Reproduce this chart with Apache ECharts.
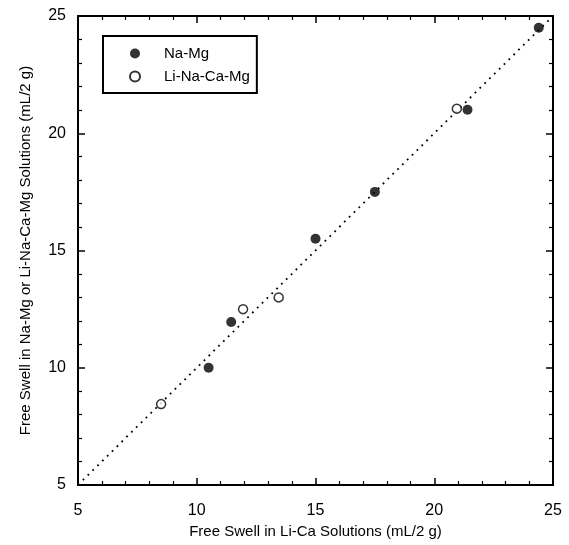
<!DOCTYPE html>
<html><head><meta charset="utf-8">
<script src="https://cdn.jsdelivr.net/npm/echarts@6/dist/echarts.min.js"></script>
<style>html,body{margin:0;padding:0;background:#fff}#c{width:569px;height:545px}</style>
</head><body><div id="c"></div>
<script>
const naMg = [[10.5,10.0],[11.45,11.95],[15.0,15.5],[17.5,17.5],[21.4,21.0],[24.4,24.5]];
const liNaCaMg = [[8.5,8.45],[11.95,12.5],[13.45,13.0],[20.95,21.05]];
const oneToOne = [[5,5],[25,25]];
const xTitle = 'Free Swell in Li-Ca Solutions (mL/2 g)';
const yTitle = 'Free Swell in Na-Mg or Li-Na-Ca-Mg Solutions (mL/2 g)';
const axMin = 5, axMax = 25, axStep = 5;

const font = 'Liberation Sans, Arial, sans-serif';
const chart = echarts.init(document.getElementById('c'));
function ax(pos, show, extra) {
  return Object.assign({
    type: 'value', min: axMin, max: axMax, interval: axStep, position: pos,
    axisLine: {show: true, onZero: false, lineStyle: {color: '#000', width: 2}},
    axisTick: {show: true, inside: true, length: 7, lineStyle: {color: '#000', width: 1.5}},
    minorTick: {show: true, splitNumber: 5, length: 4, lineStyle: {color: '#000', width: 1.2}},
    splitLine: {show: false},
    axisLabel: {show: show, color: '#000', fontSize: 16, fontFamily: font, margin: 12}
  }, extra || {});
}
chart.setOption({
  animation: false,
  grid: {left: 78, top: 16, width: 475, height: 469},
  xAxis: [
    ax('bottom', true, {name: xTitle, nameLocation: 'middle', nameGap: 38,
      axisLabel: {show: true, color: '#000', fontSize: 16, fontFamily: font, margin: 18},
      nameTextStyle: {color: '#000', fontSize: 15, fontFamily: font}}),
    ax('top', false)
  ],
  yAxis: [
    ax('left', true, {name: yTitle, nameLocation: 'middle', nameGap: 45,
      nameTextStyle: {color: '#000', fontSize: 15, fontFamily: font}}),
    ax('right', false)
  ],
  legend: {
    left: 103, top: 36, orient: 'vertical', itemGap: 8,
    borderColor: '#000', borderWidth: 2, borderRadius: 0,
    padding: [10, 7, 9, 26], itemWidth: 12, itemHeight: 10,
    textStyle: {color: '#000', fontSize: 15, fontFamily: font, padding: [0, 0, 0, 18]},
    data: [
      {name: 'Na-Mg', icon: 'circle'},
      {name: 'Li-Na-Ca-Mg', icon: 'circle'}
    ]
  },
  series: [
    {type: 'line', data: oneToOne, symbol: 'none', silent: true,
     lineStyle: {color: '#000', width: 1.8, type: [1.8, 5]}, z: 1},
    {name: 'Na-Mg', type: 'scatter', data: naMg, symbol: 'circle', symbolSize: 10,
     itemStyle: {color: '#000', borderColor: '#000', borderWidth: 0}, z: 3},
    {name: 'Li-Na-Ca-Mg', type: 'scatter', data: liNaCaMg, symbol: 'circle', symbolSize: 9,
     itemStyle: {color: '#fff', borderColor: '#000', borderWidth: 1.5}, z: 3}
  ]
});
</script></body></html>
